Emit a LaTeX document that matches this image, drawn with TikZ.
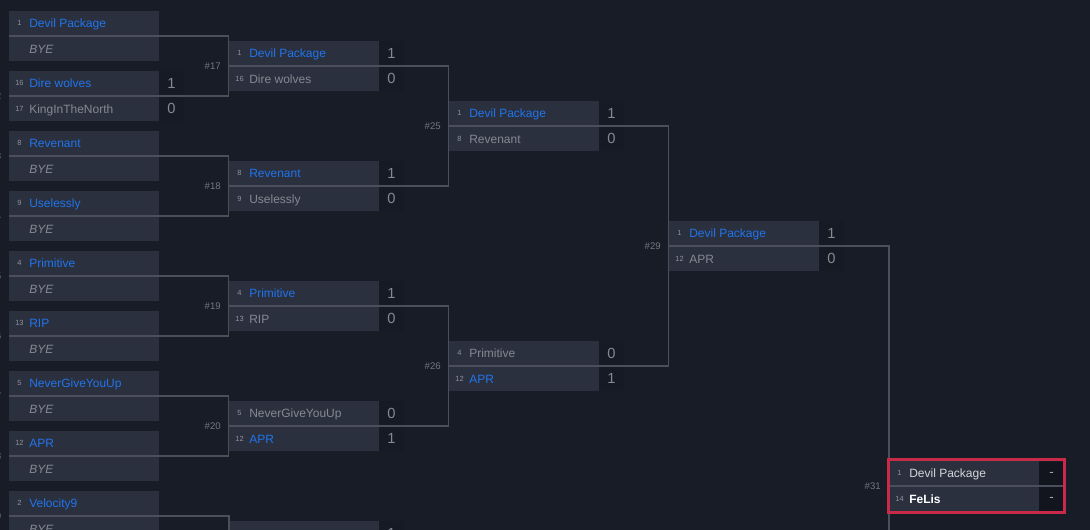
\documentclass[tikz,border=0pt]{standalone}
\usepackage{fontspec}
\setmainfont{Liberation Sans}
\usetikzlibrary{positioning}
\usetikzlibrary{calc}
\definecolor{pagebg}{HTML}{171C27}
\definecolor{cellbg}{HTML}{2A303D}
\definecolor{scorebg}{HTML}{151A25}
\definecolor{finalbg}{HTML}{12151E}
\definecolor{wirecol}{HTML}{4A4F5B}
\definecolor{winblue}{HTML}{2274EC}
\definecolor{losegray}{HTML}{858992}
\definecolor{seedgray}{HTML}{8F939B}
\definecolor{hashgray}{HTML}{73787F}
\definecolor{framered}{HTML}{C82A48}
\tikzset{
  matchcell/.style={fill=cellbg,minimum width=112.5pt,minimum height=37.5pt,inner sep=0pt},
  scorecell/.style={fill=scorebg,minimum width=18.75pt,minimum height=18.75pt,inner sep=0pt,font=\fontsize{11}{12}\selectfont,text=losegray},
  finalcell/.style={scorecell,fill=finalbg,text=losegray!70!white,font=\fontsize{10}{12}\selectfont},
  seedtxt/.style={inner sep=0pt,font=\fontsize{5.6}{7}\selectfont,text=seedgray},
  teamtxt/.style={anchor=west,inner sep=0pt,text height=6.6pt,text depth=1.8pt,font=\fontsize{9}{11}\selectfont},
  winner/.style={teamtxt,text=winblue},
  loser/.style={teamtxt,text=losegray},
  byetxt/.style={teamtxt,text=losegray,font=\fontsize{9}{11}\itshape\selectfont},
  finaltxt/.style={teamtxt,text=white!80!cellbg},
  champtxt/.style={teamtxt,text=white,font=\fontsize{9}{11}\bfseries\selectfont},
  hashtxt/.style={anchor=east,inner sep=0pt,font=\fontsize{7.2}{8}\selectfont,text=hashgray},
  wire/.style={draw=wirecol,line width=0.9pt},
}
% box of one match: name, left, top
\newcommand{\matchbox}[3]{\node[matchcell] (#1) at (#2+75,#3+25) {};}
% one line of a match: name, left, middle, seed, style, team
\newcommand{\teamrow}[6]{%
\node[seedtxt] (#1seed) at (#2+10.5,#3) {#4};
\node[#5] (#1team) at (#2+20,#3+1) {#6};}
% score beside a match: name, right edge, middle, score
\newcommand{\scorerow}[4]{\node[scorecell] (#1) at (#2+12.5,#3) {#4};}

\begin{document}
\begin{tikzpicture}[x=0.75pt,y=-0.75pt]
\useasboundingbox (0,0) rectangle (1090,529);
\clip (-2,-2) rectangle (1092,532);
\fill[pagebg] (-2,-2) rectangle (1092,532);

%first round
\matchbox{m1}{9}{11}
\teamrow{m1a}{9}{23}{1}{winner}{Devil Package}
\node[byetxt] (m1b) at (29,50) {BYE};
\matchbox{m2}{9}{71}
\teamrow{m2a}{9}{83}{16}{winner}{Dire wolves}
\teamrow{m2b}{9}{109}{17}{loser}{KingInTheNorth}
\scorerow{m2x}{159}{83}{1}
\scorerow{m2y}{159}{108}{0}
\matchbox{m3}{9}{131}
\teamrow{m3a}{9}{143}{8}{winner}{Revenant}
\node[byetxt] (m3b) at (29,170) {BYE};
\matchbox{m4}{9}{191}
\teamrow{m4a}{9}{203}{9}{winner}{Uselessly}
\node[byetxt] (m4b) at (29,230) {BYE};
\matchbox{m5}{9}{251}
\teamrow{m5a}{9}{263}{4}{winner}{Primitive}
\node[byetxt] (m5b) at (29,290) {BYE};
\matchbox{m6}{9}{311}
\teamrow{m6a}{9}{323}{13}{winner}{RIP}
\node[byetxt] (m6b) at (29,350) {BYE};
\matchbox{m7}{9}{371}
\teamrow{m7a}{9}{383}{5}{winner}{NeverGiveYouUp}
\node[byetxt] (m7b) at (29,410) {BYE};
\matchbox{m8}{9}{431}
\teamrow{m8a}{9}{443}{12}{winner}{APR}
\node[byetxt] (m8b) at (29,470) {BYE};
\matchbox{m9}{9}{491}
\teamrow{m9a}{9}{503}{2}{winner}{Velocity9}
\node[byetxt] (m9b) at (29,530) {BYE};

%second round
\matchbox{m17}{229}{41}
\teamrow{m17a}{229}{53}{1}{winner}{Devil Package}
\teamrow{m17b}{229}{79}{16}{loser}{Dire wolves}
\scorerow{m17x}{379}{53}{1}
\scorerow{m17y}{379}{78}{0}
\matchbox{m18}{229}{161}
\teamrow{m18a}{229}{173}{8}{winner}{Revenant}
\teamrow{m18b}{229}{199}{9}{loser}{Uselessly}
\scorerow{m18x}{379}{173}{1}
\scorerow{m18y}{379}{198}{0}
\matchbox{m19}{229}{281}
\teamrow{m19a}{229}{293}{4}{winner}{Primitive}
\teamrow{m19b}{229}{319}{13}{loser}{RIP}
\scorerow{m19x}{379}{293}{1}
\scorerow{m19y}{379}{318}{0}
\matchbox{m20}{229}{401}
\teamrow{m20a}{229}{413}{5}{loser}{NeverGiveYouUp}
\teamrow{m20b}{229}{439}{12}{winner}{APR}
\scorerow{m20x}{379}{413}{0}
\scorerow{m20y}{379}{438}{1}
\matchbox{m21}{229}{521}
\scorerow{m21x}{379}{533}{1}

%third round
\matchbox{m25}{449}{101}
\teamrow{m25a}{449}{113}{1}{winner}{Devil Package}
\teamrow{m25b}{449}{139}{8}{loser}{Revenant}
\scorerow{m25x}{599}{113}{1}
\scorerow{m25y}{599}{138}{0}
\matchbox{m26}{449}{341}
\teamrow{m26a}{449}{353}{4}{loser}{Primitive}
\teamrow{m26b}{449}{379}{12}{winner}{APR}
\scorerow{m26x}{599}{353}{0}
\scorerow{m26y}{599}{378}{1}

%fourth round
\matchbox{m29}{669}{221}
\teamrow{m29a}{669}{233}{1}{winner}{Devil Package}
\teamrow{m29b}{669}{259}{12}{loser}{APR}
\scorerow{m29x}{819}{233}{1}
\scorerow{m29y}{819}{258}{0}

%final
\matchbox{m31}{889}{461}
\teamrow{m31a}{889}{473}{1}{finaltxt}{Devil Package}
\teamrow{m31b}{889}{499}{14}{champtxt}{FeLis}
\node[finalcell] (m31x) at (1051.5,474) {-};
\node[finalcell] (m31y) at (1051.5,499) {-};

%match numbers
\foreach \num/\ypos in {2/96,3/156,4/216,5/276,6/336,7/396,8/456,9/516}
  \node[hashtxt] (h\num) at (1.5,\ypos) {\#\num};
\node[hashtxt] (h17) at (221,66) {\#17};
\node[hashtxt] (h18) at (221,186) {\#18};
\node[hashtxt] (h19) at (221,306) {\#19};
\node[hashtxt] (h20) at (221,426) {\#20};
\node[hashtxt] (h25) at (441,126) {\#25};
\node[hashtxt] (h26) at (441,366) {\#26};
\node[hashtxt] (h29) at (661,246) {\#29};
\node[hashtxt] (h31) at (881,486) {\#31};

%connectors
\coordinate (low21) at (229,560);
\coordinate (low31) at (889,560);
\coordinate (end31) at (1064,486);
\draw[wire] (m1.west) -| (m17.west) |- (m2.west);
\draw[wire] (m3.west) -| (m18.west) |- (m4.west);
\draw[wire] (m5.west) -| (m19.west) |- (m6.west);
\draw[wire] (m7.west) -| (m20.west) |- (m8.west);
\draw[wire] (m9.west) -| (low21);
\draw[wire] (m17.west) -| (m25.west) |- (m18.west);
\draw[wire] (m19.west) -| (m26.west) |- (m20.west);
\draw[wire] (m25.west) -| (m29.west) |- (m26.west);
\draw[wire] (m29.west) -| (low31);
\draw[wire] (m31.west) -- (end31);

%red frame round the final
\node[draw=framered,line width=2.25pt,minimum width=132pt,minimum height=39.5pt,inner sep=0pt] (frame31) at (976.5,486) {};
\end{tikzpicture}
\end{document}
